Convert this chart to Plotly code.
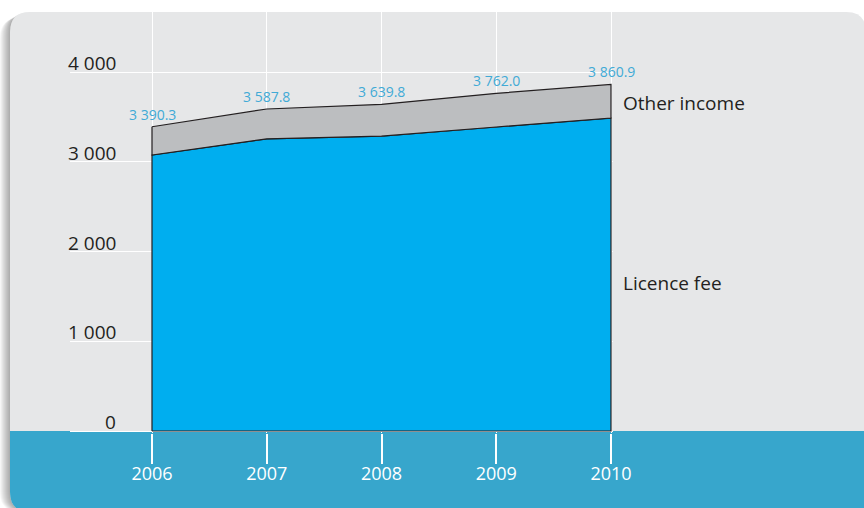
import plotly.graph_objects as go

# ---- data ----
years = [2006, 2007, 2008, 2009, 2010]
licence_fee = [3075.0, 3255.0, 3285.0, 3387.0, 3487.0]
other_income = [315.3, 332.8, 354.8, 375.0, 373.9]
y_ticks = [0, 1000, 2000, 3000, 4000]
y_tick_labels = ["0", "1 000", "2 000", "3 000", "4 000"]
series_names = ["Licence fee", "Other income"]

totals = [round(a + b, 1) for a, b in zip(licence_fee, other_income)]

# ---- styling ----
W, H = 864, 508
PL, PR, PT, PB = 70, 613, 12, 433          # plot area in pixels
PANEL = "#e6e7e8"
BAND = "#37a6cc"
BLUE = "#00aeef"
GREY = "#bcbec0"
DARK = "#231f20"
LABEL_BLUE = "#41aad6"
FONT = "Open Sans"

px_per_year = 114.75
px_per_unit = 0.08975
x_range = [years[0] - (152 - PL) / px_per_year, years[-1] + (PR - 611) / px_per_year]
y_range = [-(PB - 431) / px_per_unit, (431 - PT) / px_per_unit]


def X(px):
    return (px - PL) / (PR - PL)


def Y(py):
    return (PB - py) / (PB - PT)


def P(px, py):
    return f"{X(px):.5f},{Y(py):.5f}"


def rounded_rect(x0, y0, x1, y1, r):
    return (f"M{P(x0 + r, y0)} L{P(x1 - r, y0)} Q{P(x1, y0)} {P(x1, y0 + r)} "
            f"L{P(x1, y1 - r)} Q{P(x1, y1)} {P(x1 - r, y1)} "
            f"L{P(x0 + r, y1)} Q{P(x0, y1)} {P(x0, y1 - r)} "
            f"L{P(x0, y0 + r)} Q{P(x0, y0)} {P(x0 + r, y0)} Z")


shapes = []
# soft shadow on the left
for k in range(1, 11):
    shapes.append(dict(type="path", xref="paper", yref="paper", layer="below",
                       path=rounded_rect(10 - k, 12 + k * 0.6, 866, 512, 20),
                       fillcolor="rgba(0,0,0,0.035)", line=dict(width=0)))
# panel
shapes.append(dict(type="path", xref="paper", yref="paper", layer="below",
                   path=rounded_rect(10, 12, 866, 512, 20),
                   fillcolor=PANEL, line=dict(width=0)))
# bottom band
r = 20
band_path = (f"M{P(10, 431)} L{P(866, 431)} L{P(866, 512)} L{P(10 + r, 512)} "
             f"Q{P(10, 512)} {P(10, 512 - r)} Z")
shapes.append(dict(type="path", xref="paper", yref="paper", layer="below",
                   path=band_path, fillcolor=BAND, line=dict(width=0)))

fig = go.Figure()

# Licence fee polygon
fig.add_trace(go.Scatter(
    x=[years[0]] + years + [years[-1], years[0]],
    y=[0] + licence_fee + [0, 0],
    mode="lines", fill="toself", fillcolor=BLUE,
    line=dict(color=DARK, width=1.2), hoverinfo="skip", name=series_names[0]))

# Other income band
fig.add_trace(go.Scatter(
    x=years + years[::-1] + [years[0]],
    y=totals + licence_fee[::-1] + [totals[0]],
    mode="lines", fill="toself", fillcolor=GREY,
    line=dict(color=DARK, width=1.2), hoverinfo="skip", name=series_names[1]))

annotations = []
# y tick labels sitting on the gridlines
for v, t in zip(y_ticks, y_tick_labels):
    annotations.append(dict(x=X(118), xref="paper", y=v, yref="y", text=t,
                            showarrow=False, xanchor="right", yanchor="bottom",
                            yshift=-6, font=dict(family=FONT, size=19, color=DARK)))
# total labels
for yr, tot in zip(years, totals):
    annotations.append(dict(x=yr, y=tot, xref="x", yref="y",
                            text=f"{tot:,.1f}".replace(",", " "),
                            showarrow=False, xanchor="center", yanchor="bottom",
                            yshift=1, font=dict(family=FONT, size=14, color=LABEL_BLUE)))
# series labels
annotations.append(dict(x=X(621), xref="paper",
                        y=(licence_fee[-1] + totals[-1]) / 2, yref="y",
                        text=series_names[1], showarrow=False, xanchor="left",
                        yanchor="middle", yshift=-2,
                        font=dict(family=FONT, size=19, color=DARK)))
annotations.append(dict(x=X(621), xref="paper", y=Y(283), yref="paper",
                        text=series_names[0], showarrow=False, xanchor="left",
                        yanchor="middle", font=dict(family=FONT, size=19, color=DARK)))

fig.update_layout(
    width=W, height=H,
    margin=dict(l=PL, r=W - PR, t=PT, b=H - PB, pad=0),
    paper_bgcolor="white", plot_bgcolor="rgba(0,0,0,0)",
    showlegend=False, shapes=shapes, annotations=annotations,
    xaxis=dict(range=x_range, tickvals=years, ticktext=[str(y) for y in years],
               showgrid=True, gridcolor="white", gridwidth=1.3, zeroline=False,
               showline=False, ticks="outside", ticklen=30, tickwidth=1.5,
               tickcolor="white", ticklabelstandoff=-6,
               tickfont=dict(family=FONT, size=18, color="white"),
               fixedrange=True),
    yaxis=dict(range=y_range, tickvals=y_ticks, showticklabels=False,
               showgrid=True, gridcolor="white", gridwidth=1.3, zeroline=False,
               showline=False, ticks="", fixedrange=True),
)

fig.write_html("out.html", config={"displayModeBar": False},
               post_script="document.body.style.margin='0';document.body.style.padding='0';")
